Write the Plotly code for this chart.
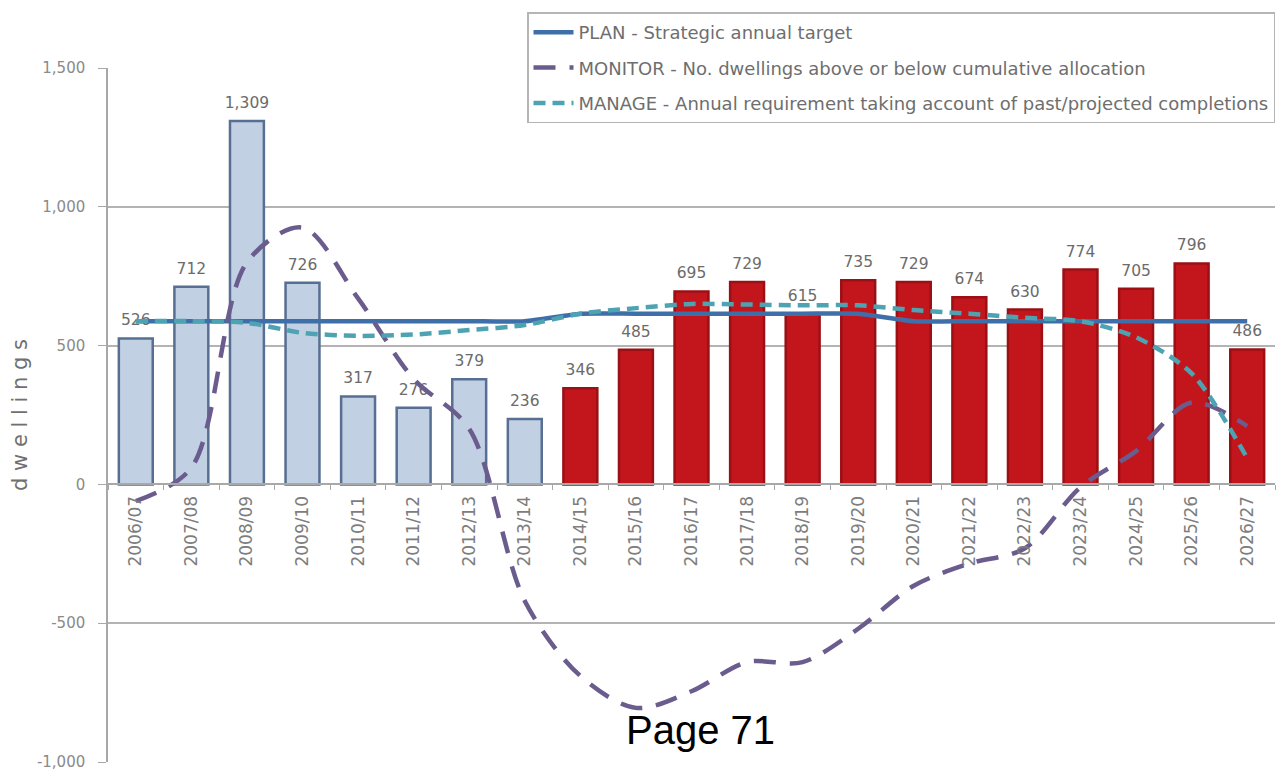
import plotly.graph_objects as go

# Financial years
years = ["2006/07", "2007/08", "2008/09", "2009/10", "2010/11", "2011/12", "2012/13",
         "2013/14", "2014/15", "2015/16", "2016/17", "2017/18", "2018/19", "2019/20",
         "2020/21", "2021/22", "2022/23", "2023/24", "2024/25", "2025/26", "2026/27"]

# Net dwelling completions (actual to 2013/14, projected thereafter)
completions = [526, 712, 1309, 726, 317, 276, 379, 236, 346, 485, 695, 729, 615, 735,
               729, 674, 630, 774, 705, 796, 486]
n_actual = 8

# PLAN - strategic annual target
plan = [588, 588, 588, 588, 588, 588, 588, 588, 615, 615, 615, 615, 615, 615,
        588, 588, 588, 588, 588, 588, 588]

# MONITOR - dwellings above/below cumulative allocation
monitor = [-60, 60, 800, 925, 670, 380, 200, -420, -690, -805, -745, -640, -640, -520,
           -365, -285, -230, -10, 120, 295, 210]

# MANAGE - annual requirement given past/projected completions
manage = [588, 588, 582, 546, 535, 540, 556, 574, 615, 635, 650, 648, 645, 645,
          628, 615, 600, 588, 530, 400, 95]

y_ticks = [-1000, -500, 0, 500, 1000, 1500]
y_tick_text = ["-1,000", "-500", "0", "500", "1,000", "1,500"]

FONT = "DejaVu Sans, Liberation Sans, Arial, sans-serif"
GREY = "#7d7d7d"

bar_fill = ["#c2d0e4" if i < n_actual else "#c3161c" for i in range(len(years))]
bar_edge = ["#566f92" if i < n_actual else "#9a1015" for i in range(len(years))]

fig = go.Figure()

fig.add_trace(go.Bar(
    x=years, y=completions, width=0.61,
    marker=dict(color=bar_fill, line=dict(color=bar_edge, width=2.5)),
    showlegend=False, hoverinfo="x+y",
))

# value labels sit above each bar, underneath the trend lines
fig.add_trace(go.Scatter(
    x=years, y=completions, mode="markers+text",
    text=[f"{v:,}" for v in completions], textposition="top center",
    textfont=dict(family=FONT, size=15.5, color="#6b6b6b"),
    marker=dict(size=13, color="rgba(0,0,0,0)"),
    showlegend=False, hoverinfo="skip", cliponaxis=False,
))

fig.add_trace(go.Scatter(
    x=years, y=plan, mode="lines", name="PLAN - Strategic annual target",
    legendgroup="plan",
    line=dict(color="#3f6fa8", width=4.5, shape="spline", smoothing=0.6),
))
fig.add_trace(go.Scatter(
    x=years, y=monitor, mode="lines",
    name="MONITOR - No. dwellings above or below cumulative allocation",
    legendgroup="monitor",
    line=dict(color="#6b5c8e", width=4.5, dash="22px,14px", shape="spline", smoothing=0.9),
))
fig.add_trace(go.Scatter(
    x=years, y=manage, mode="lines",
    name="MANAGE - Annual requirement taking account of past/projected completions",
    legendgroup="manage",
    line=dict(color="#4ea3b3", width=4.5, dash="12px,7px", shape="spline", smoothing=0.8),
))

fig.update_layout(
    width=1283, height=773,
    margin=dict(l=108, r=8, t=68, b=11, autoexpand=False),
    paper_bgcolor="white", plot_bgcolor="white",
    font=dict(family=FONT, color=GREY),
    annotations=[dict(
        xref="paper", yref="paper", x=0.508, y=0.012, text="Page 71", showarrow=False,
        font=dict(family="Liberation Sans, Arial, sans-serif", size=40, color="#000000"),
    )],
    legend=dict(
        x=1.0, xanchor="right", y=1.08, yanchor="top",
        bgcolor="white", bordercolor="#b5b5b5", borderwidth=1.5,
        font=dict(family=FONT, size=18, color="#6e6e6e"),
        tracegroupgap=9, itemwidth=40,
    ),
    xaxis=dict(
        type="category", range=[-0.5, len(years) - 0.5],
        anchor="free", position=0.4, automargin=False,
        showline=True, linecolor="#a8a8a8", linewidth=1.5,
        ticks="outside", tickson="boundaries", ticklen=5, tickcolor="#a8a8a8",
        tickangle=-90, tickfont=dict(family=FONT, size=17, color=GREY),
        ticklabelstandoff=4,
        showgrid=False,
    ),
    yaxis=dict(
        range=[-1000, 1500], tickvals=y_ticks, ticktext=y_tick_text,
        automargin=False,
        showgrid=True, gridcolor="#b3b3b3", gridwidth=1.5,
        showline=True, linecolor="#a8a8a8", linewidth=1.5,
        ticks="outside", ticklen=8, tickcolor="#a8a8a8",
        tickfont=dict(family=FONT, size=15, color="#8a8a8a"),
        ticklabelstandoff=10, ticklabeloverflow="allow",
        zeroline=False,
        title=dict(text="d w e l l i n g s", standoff=4,
                   font=dict(family=FONT, size=21, color="#707070")),
    ),
)

fig.write_html("out.html")
